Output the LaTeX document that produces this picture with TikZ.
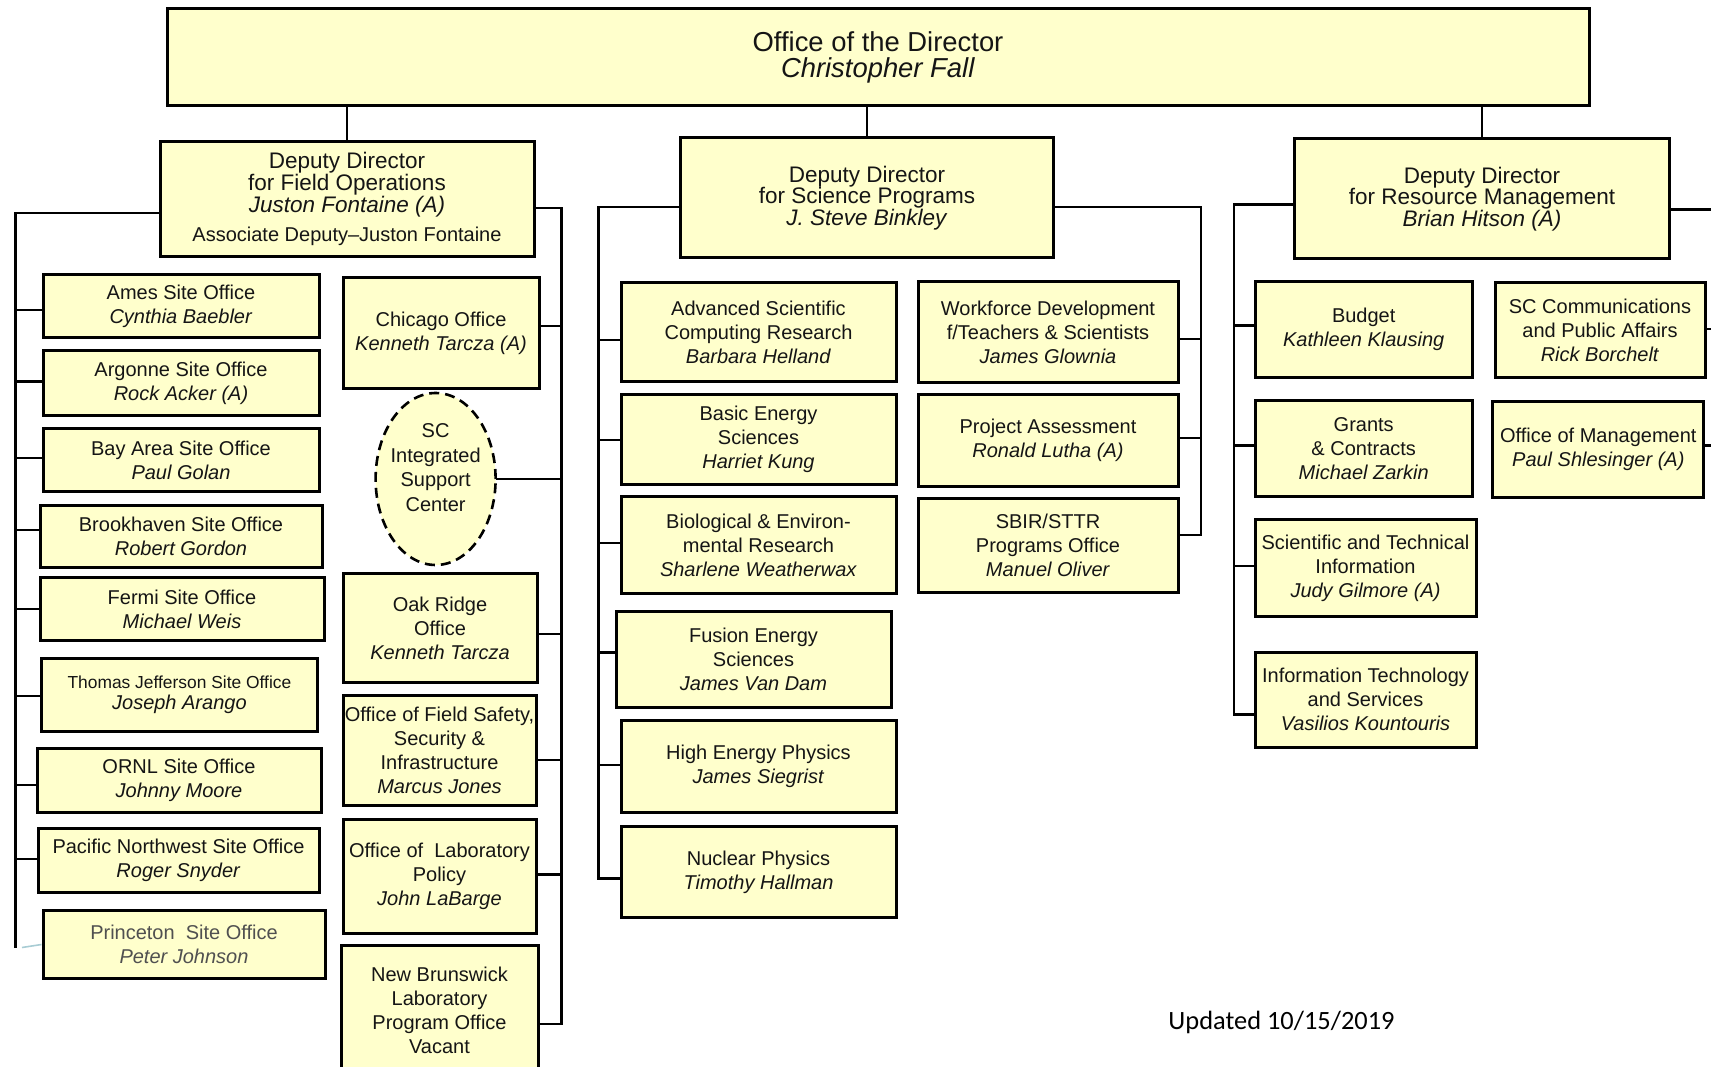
\documentclass[tikz,border=0pt]{standalone}
\usepackage{fontspec}
\setmainfont{Liberation Sans}
\newfontfamily\calfont{Carlito}
\usetikzlibrary{shapes.geometric}
\definecolor{boxfill}{HTML}{FFFFCC}
\definecolor{txt}{HTML}{151515}
\definecolor{greytxt}{HTML}{505050}
\definecolor{faint}{HTML}{A8CCD4}
\begin{document}
\begin{tikzpicture}[x=1pt,y=-1pt,
  box/.style={draw=black, line width=3pt, fill=boxfill, inner sep=0pt, align=center, text=txt, font=\fontsize{20}{24}\selectfont},
  ddbox/.style={box, font=\fontsize{22.5}{21.8}\selectfont},
  dirbox/.style={box, font=\fontsize{27.4}{25.5}\selectfont},
  wh/.style 2 args={minimum width=#1, minimum height=#2},
  isc/.style={ellipse, draw=black, line width=2.6pt, dash pattern=on 10pt off 6pt, fill=boxfill, inner sep=0pt},
  isclabel/.style={align=center, text=txt, inner sep=0pt, font=\fontsize{20}{24.4}\selectfont},
  conn/.style={draw=black, line width=2.6pt, line cap=rect},
  bus/.style={draw=black, line width=2.6pt, line cap=rect, line join=miter},
]
\useasboundingbox (0,0) rectangle (1711,1067);
\clip (0,0) rectangle (1711,1067);

% ---------- director ----------
\node[dirbox, wh={1422}{97}] (dir) at (878,57.5) {Office of the Director\\\textit{Christopher Fall}};

% ---------- deputy directors ----------
\node[ddbox, wh={374}{115}] (dfo) at (347,199) {Deputy Director\\for Field Operations\\\textit{Juston Fontaine (A)}\\[7pt]{\fontsize{20}{22}\selectfont Associate Deputy–Juston Fontaine}};
\node[ddbox, wh={373}{120}] (dsp) at (867,198) {Deputy Director\\for Science Programs\\\textit{J. Steve Binkley}};
\node[ddbox, wh={375}{120}] (drm) at (1482,199) {Deputy Director\\for Resource Management\\\textit{Brian Hitson (A)}};

\draw[conn] (dfo.north) -- (dfo.north |- dir.south);
\draw[conn] (dsp.north) -- (dsp.north |- dir.south);
\draw[conn] (drm.north) -- (drm.north |- dir.south);

% ---------- field operations, left column ----------
\node[box, wh={276}{63}] (ames) at (181,306) {Ames Site Office\\\textit{Cynthia Baebler}};
\node[box, wh={276}{65}] (argonne) at (181,383) {Argonne Site Office\\\textit{Rock Acker (A)}};
\node[box, wh={276}{63}] (bayarea) at (181,460) {Bay Area Site Office\\\textit{Paul Golan}};
\node[box, wh={282}{62}] (brookhaven) at (181,536) {Brookhaven Site Office\\\textit{Robert Gordon}};
\node[box, wh={284}{63}] (fermi) at (182,609) {Fermi Site Office\\\textit{Michael Weis}};
\node[box, wh={276}{73}, font=\fontsize{20}{21.5}\selectfont] (tj) at (179.4,695) {{\fontsize{17.4}{20}\selectfont Thomas Jefferson Site Office}\\\textit{Joseph Arango}};
\node[box, wh={284}{64}] (ornl) at (179,780) {ORNL Site Office\\\textit{Johnny Moore}};
\node[box, wh={281}{64}] (pnnl) at (178.5,860) {Pacific Northwest Site Office\\\textit{Roger Snyder}};
\node[box, wh={282}{68}, text=greytxt] (princeton) at (184,944) {Princeton~ Site Office\\\textit{Peter Johnson}};

% ---------- field operations, right column ----------
\node[box, wh={196}{110}] (chicago) at (441,333) {Chicago Office\\\textit{Kenneth Tarcza (A)}};
\node[isc, minimum width=120, minimum height=172] (iscnode) at (435.6,479) {};
\node[isclabel] (isctext) at ([yshift=11.4pt]iscnode.center) {SC\\Integrated\\Support\\Center};
\node[box, wh={194}{109}] (oakridge) at (440,628) {Oak Ridge\\Office\\\textit{Kenneth Tarcza}};
\node[box, wh={193}{110}] (fieldsafety) at (439.5,750) {Office of Field Safety,\\Security \&\\Infrastructure\\\textit{Marcus Jones}};
\node[box, wh={193}{114}] (labpolicy) at (439.5,876) {Office of~ Laboratory\\Policy\\\textit{John LaBarge}};
\node[box, wh={197}{129}] (nbl) at (439.5,1010.2) {New Brunswick\\Laboratory\\Program Office\\Vacant};

% field operations buses
\coordinate (fl) at (15.5,213);
\coordinate (flend) at (15.5,947);
\coordinate (fr) at (561.6,208);
\coordinate (frend) at (561.6,1024);
\draw[bus] (dfo.west |- fl) -- (fl) -- (flend);
\draw[bus] (dfo.east |- fr) -- (fr) -- (frend);

\draw[conn] (ames.west |- 0,310) -- (fl |- 0,310);
\draw[conn] (argonne.west |- 0,381.7) -- (fl |- 0,381.7);
\draw[conn] (bayarea.west |- 0,458) -- (fl |- 0,458);
\draw[conn] (brookhaven.west |- 0,530) -- (fl |- 0,530);
\draw[conn] (fermi.west |- 0,609) -- (fl |- 0,609);
\draw[conn] (tj.west |- 0,696) -- (fl |- 0,696);
\draw[conn] (ornl.west |- 0,785) -- (fl |- 0,785);
\draw[conn] (pnnl.west |- 0,859) -- (fl |- 0,859);
\coordinate (faintend) at (22,947.5);
\draw[faint, line width=1.6pt] (princeton.west |- 0,944.5) -- (faintend);

\draw[conn] (chicago.east |- 0,326) -- (fr |- 0,326);
\draw[conn] (iscnode.east) -- (fr |- iscnode.east);
\draw[conn] (oakridge.east |- 0,634) -- (fr |- 0,634);
\draw[conn] (fieldsafety.east |- 0,760) -- (fr |- 0,760);
\draw[conn] (labpolicy.east |- 0,874.5) -- (fr |- 0,874.5);
\draw[conn] (nbl.east |- frend) -- (frend);

% ---------- science programs ----------
\node[box, wh={275}{98}] (ascr) at (758.5,332) {Advanced Scientific\\Computing Research\\\textit{Barbara Helland}};
\node[box, wh={275}{90}] (bes) at (758.5,439) {Basic Energy\\Sciences\\\textit{Harriet Kung}};
\node[box, wh={275}{97}] (ber) at (758.5,545) {Biological \& Environ-\\mental Research\\\textit{Sharlene Weatherwax}};
\node[box, wh={275}{96}] (fes) at (753.5,659.5) {Fusion Energy\\Sciences\\\textit{James Van Dam}};
\node[box, wh={275}{92}] (hep) at (758.5,766) {High Energy Physics\\\textit{James Siegrist}};
\node[box, wh={275}{91}] (np) at (758.5,872) {Nuclear Physics\\\textit{Timothy Hallman}};
\node[box, wh={260}{101}] (wdts) at (1048,332) {Workforce Development\\f/Teachers \& Scientists\\\textit{James Glownia}};
\node[box, wh={260}{92}] (pa) at (1048,440) {Project Assessment\\\textit{Ronald Lutha (A)}};
\node[box, wh={260}{94}] (sbir) at (1048,545.5) {SBIR/STTR\\Programs Office\\\textit{Manuel Oliver}};

\coordinate (sl) at (598.4,207);
\coordinate (slend) at (598.4,878.3);
\coordinate (sr) at (1201,207);
\coordinate (srend) at (1201,535);
\draw[bus] (dsp.west |- sl) -- (sl) -- (slend);
\draw[bus] (dsp.east |- sr) -- (sr) -- (srend);

\draw[conn] (ascr.west |- 0,340) -- (sl |- 0,340);
\draw[conn] (bes.west |- 0,440) -- (sl |- 0,440);
\draw[conn] (ber.west |- 0,543) -- (sl |- 0,543);
\draw[conn] (fes.west |- 0,652.7) -- (sl |- 0,652.7);
\draw[conn] (hep.west |- 0,765) -- (sl |- 0,765);
\draw[conn] (np.west |- slend) -- (slend);
\draw[conn] (wdts.east |- 0,339) -- (sr |- 0,339);
\draw[conn] (pa.east |- 0,438) -- (sr |- 0,438);
\draw[conn] (sbir.east |- srend) -- (srend);

% ---------- resource management ----------
\node[box, wh={217}{95}] (budget) at (1363.7,329.5) {Budget\\\textit{Kathleen Klausing}};
\node[box, wh={217}{96}] (grants) at (1363.7,448.5) {Grants\\\& Contracts\\\textit{Michael Zarkin}};
\node[box, wh={221}{97}] (sti) at (1365.5,568) {Scientific and Technical\\Information\\\textit{Judy Gilmore (A)}};
\node[box, wh={221}{95}] (it) at (1365.5,699.5) {Information Technology\\and Services\\\textit{Vasilios Kountouris}};
\node[box, wh={210}{95}] (sccomm) at (1600,330) {SC Communications\\and Public Affairs\\\textit{Rick Borchelt}};
\node[box, wh={211}{96}] (oom) at (1598.3,449) {Office of Management\\\textit{Paul Shlesinger (A)}};

\coordinate (rl) at (1234,204.3);
\coordinate (rlend) at (1234,714.6);
\coordinate (rr) at (1716,209.5);
\coordinate (rc1) at (1716,329);
\coordinate (rc2) at (1716,445.4);
\draw[bus] (drm.west |- rl) -- (rl) -- (rlend);
\draw[conn] (drm.east |- rr) -- (rr);
\draw[conn] (sccomm.east |- rc1) -- (rc1);
\draw[conn] (oom.east |- rc2) -- (rc2);

\draw[conn] (budget.west |- 0,325.7) -- (rl |- 0,325.7);
\draw[conn] (grants.west |- 0,445.4) -- (rl |- 0,445.4);
\draw[conn] (sti.west |- 0,566) -- (rl |- 0,566);
\draw[conn] (it.west |- rlend) -- (rlend);

% ---------- date ----------
\node[font=\calfont\fontsize{26.4}{30}\selectfont, text=black, inner sep=0pt] (upd) at (1281.5,1022) {Updated 10/15/2019};
\end{tikzpicture}
\end{document}
